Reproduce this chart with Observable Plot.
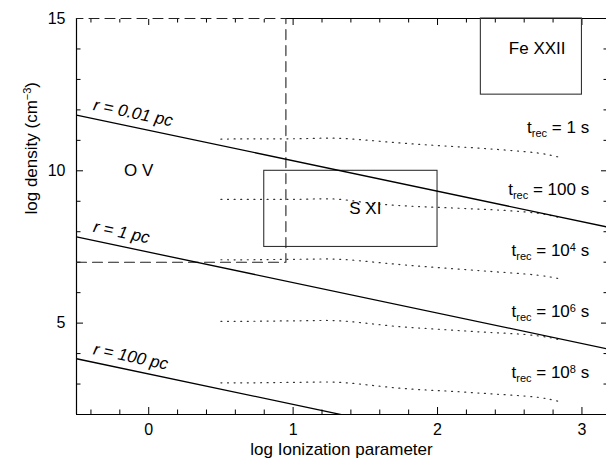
<!DOCTYPE html>
<html><head><meta charset="utf-8">
<script src="https://cdn.jsdelivr.net/npm/d3@7"></script>
<script src="https://cdn.jsdelivr.net/npm/@observablehq/plot@0.6"></script>
<style>body{margin:0;background:#fff}</style>
</head><body><div id="chart"></div>
<script>
// ---- axes ----
const xDomain = [-0.5, 3.17];
const yDomain = [2, 15];
const xMajor = [0, 1, 2, 3];
const xMinor = [-0.4, -0.2, 0.2, 0.4, 0.6, 0.8, 1.2, 1.4, 1.6, 1.8, 2.2, 2.4, 2.6, 2.8];
const yMajor = [5, 10, 15];
const yMinor = [3, 4, 6, 7, 8, 9, 11, 12, 13, 14];
const xTitle = "log Ionization parameter";
const yTitle = "log density (cm-3)";

// ---- constant-radius lines ----
const rLabels = ["r = 0.01 pc", "r = 1 pc", "r = 100 pc"];
const rLineX = [-0.5, 3.2];
const rLine001 = [11.83, 8.13];
const rLine1 = [7.83, 4.13];
const rLine100 = [3.83, 0.13];
const rLabelX = [-0.39, -0.39, -0.39];
const rLabelY = [12.0, 8.0, 3.98];

// ---- recombination-time curves (dotted) ----
const trecX = [0.5, 0.7, 0.9, 1.1, 1.3, 1.5, 1.7, 1.9, 2.1, 2.3, 2.5, 2.7, 2.85];
const trec1 = [11.04, 11.05, 11.05, 11.06, 11.07, 11.01, 10.93, 10.86, 10.80, 10.74, 10.67, 10.58, 10.44];
const trec2 = [9.06, 9.06, 9.06, 9.07, 9.07, 8.96, 8.87, 8.82, 8.78, 8.74, 8.69, 8.60, 8.46];
const trec4 = [7.08, 7.08, 7.09, 7.10, 7.10, 7.03, 6.94, 6.86, 6.79, 6.72, 6.65, 6.57, 6.45];
const trec6 = [5.06, 5.06, 5.07, 5.08, 5.08, 5.00, 4.90, 4.83, 4.77, 4.71, 4.66, 4.58, 4.45];
const trec8 = [3.04, 3.04, 3.05, 3.06, 3.06, 2.98, 2.88, 2.81, 2.76, 2.70, 2.64, 2.56, 2.42];
const trecBase = ["1", "100", "10", "10", "10"];
const trecExp = ["", "", "4", "6", "8"];
const trecLabelX = [3.05, 3.05, 3.05, 3.05, 3.05];
const trecLabelY = [11.23, 9.2, 7.2, 5.2, 3.2];

// ---- ion regions ----
const ionNames = ["Fe XXII", "S XI", "O V"];
const ionLabelX = [2.69, 1.5, -0.07];
const ionLabelY = [13.83, 8.58, 9.83];
const boxX1 = [2.3, 0.8];
const boxX2 = [3.0, 2.0];
const boxY1 = [12.5, 7.5];
const boxY2 = [15, 10];

// ---- dashed limit lines ----
const dashX = [-0.5, 0.95, 0.95, -0.5];
const dashY = [7, 7, 15, 15];

// ---- build tables ----
const rLineRows = [rLine001, rLine1, rLine100].flatMap((ys, i) =>
  ys.map((y, j) => ({x: rLineX[j], y, r: rLabels[i]})));
const rLabelRows = rLabels.map((t, i) => ({x: rLabelX[i], y: rLabelY[i], t}));
const trecRows = [trec1, trec2, trec4, trec6, trec8].flatMap((ys, i) =>
  ys.map((y, j) => ({x: trecX[j], y, k: i})));
const trecLabelRows = trecBase.map((b, i) => ({
  x: trecLabelX[i], y: trecLabelY[i],
  t: "trec = " + b + (trecExp[i] ? "^" + trecExp[i] : "") + " s"
}));
const ionRows = ionNames.map((t, i) => ({x: ionLabelX[i], y: ionLabelY[i], t}));
const boxRows = boxX1.map((x1, i) => ({x1, x2: boxX2[i], y1: boxY1[i], y2: boxY2[i]}));
const dashRows = dashX.map((x, i) => ({x, y: dashY[i]}));

const font = "'Liberation Sans', Arial, Helvetica, sans-serif";
const fmt = d => String(d);

const svg = Plot.plot({
  width: 606,
  height: 461,
  marginLeft: 76,
  marginRight: 0,
  marginTop: 18,
  marginBottom: 47,
  style: {fontFamily: font, fontSize: "16px", color: "black", background: "white"},
  x: {domain: xDomain, label: null},
  y: {domain: yDomain, label: null},
  marks: [
    // frame pieces
    Plot.ruleY([yDomain[0]], {stroke: "black", strokeWidth: 1.2}),
    Plot.ruleX([xDomain[0]], {stroke: "black", strokeWidth: 1.2}),
    Plot.ruleY([yDomain[1]], {x1: dashX[1], x2: xDomain[1], stroke: "black", strokeWidth: 1.2}),
    // tick labels and inward ticks
    Plot.axisX(xMajor, {anchor: "bottom", tickSize: 0, tickPadding: 9, label: null, fontSize: 16, tickFormat: fmt}),
    Plot.axisX(xMajor, {anchor: "bottom", tickSize: 7, dy: -7, tickFormat: () => "", label: null}),
    Plot.axisX(xMinor, {anchor: "bottom", tickSize: 4.5, dy: -4.5, tickFormat: () => "", label: null}),
    Plot.axisX(xMajor, {anchor: "top", tickSize: 6, dy: 6, tickFormat: () => "", label: null}),
    Plot.axisX(xMinor, {anchor: "top", tickSize: 3.5, dy: 3.5, tickFormat: () => "", label: null}),
    Plot.axisY(yMajor, {anchor: "left", tickSize: 0, tickPadding: 11, label: null, fontSize: 16, tickFormat: fmt}),
    Plot.axisY(yMajor, {anchor: "left", tickSize: 7, dx: 7, tickFormat: () => "", label: null}),
    Plot.axisY(yMinor, {anchor: "left", tickSize: 4.5, dx: 4.5, tickFormat: () => "", label: null}),
    Plot.axisY(yMajor, {anchor: "right", tickSize: 6, dx: -6, tickFormat: () => "", label: null}),
    Plot.axisY(yMinor, {anchor: "right", tickSize: 3.5, dx: -3.5, tickFormat: () => "", label: null}),
    // boxes
    Plot.rect(boxRows, {x1: "x1", x2: "x2", y1: "y1", y2: "y2", fill: "none", stroke: "#333", strokeWidth: 1.1}),
    // dashed limits
    Plot.line(dashRows, {x: "x", y: "y", stroke: "#222", strokeWidth: 1.1, strokeDasharray: "10,6"}),
    // dotted trec curves
    Plot.line(trecRows, {x: "x", y: "y", z: "k", curve: "natural", stroke: "#333", strokeWidth: 1.2, strokeDasharray: "1,5.6"}),
    // radius lines
    Plot.line(rLineRows, {x: "x", y: "y", z: "r", stroke: "black", strokeWidth: 1.3, clip: true}),
    // labels
    Plot.text(rLabelRows, {x: "x", y: "y", text: "t", rotate: 11.9, textAnchor: "start", lineAnchor: "bottom", fontStyle: "italic", fontSize: 17, fill: "black"}),
    Plot.text(ionRows, {x: "x", y: "y", text: "t", textAnchor: "middle", lineAnchor: "bottom", fontSize: 17, fill: "black"}),
    Plot.text(trecLabelRows, {x: "x", y: "y", text: "t", textAnchor: "end", lineAnchor: "bottom", fontSize: 17, fill: "black"}),
    Plot.text([xTitle], {frameAnchor: "bottom", dy: 40, text: d => d, lineAnchor: "bottom", fontSize: 17, fill: "black"}),
    Plot.text([yTitle], {frameAnchor: "left", dx: -40, dy: -2, rotate: -90, text: d => d, lineAnchor: "bottom", fontSize: 17, fill: "black"})
  ]
});

// rich text: subscripts / superscripts
const sel = d3.select(svg);
let ti = 0;
sel.selectAll("text").each(function() {
  const t = d3.select(this);
  const s = this.textContent;
  if (s.startsWith("trec = ")) {
    const i = trecLabelRows.findIndex(r => r.t === s);
    t.text("");
    t.append("tspan").text("t");
    t.append("tspan").attr("font-size", 11).attr("dy", 4).text("rec");
    t.append("tspan").attr("dy", -4).text(" = " + trecBase[i]);
    if (trecExp[i]) {
      t.append("tspan").attr("font-size", 11).attr("dy", -5).text(trecExp[i]);
      t.append("tspan").attr("dy", 5).text(" s");
    } else {
      t.append("tspan").text(" s");
    }
  } else if (s === yTitle) {
    t.text("");
    t.append("tspan").text("log density (cm");
    t.append("tspan").attr("font-size", 11).attr("dy", -6).text("\u22123");
    t.append("tspan").attr("dy", 6).text(")");
  }
});

document.getElementById("chart").appendChild(svg);
</script>
</body></html>
